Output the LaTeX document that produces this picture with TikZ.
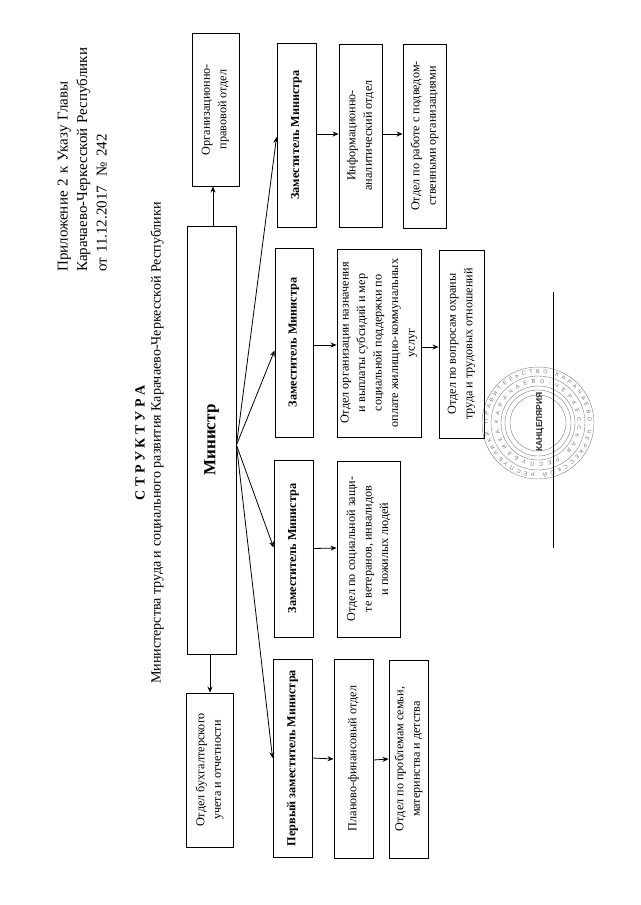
\documentclass[tikz,border=0pt]{standalone}
\usepackage{fontspec}
\setmainfont{Liberation Serif}
\newfontfamily\stampfont{Liberation Sans}
\usetikzlibrary{arrows.meta,calc,decorations.text}
\tikzset{
  box/.style={draw=black,line width=0.9pt,rotate=90,align=center,inner sep=0pt,font=\fontsize{12.2}{16.5}\selectfont},
  bbox/.style={box,font=\fontsize{12.2}{16.5}\selectfont\bfseries},
  lnk/.style={draw=black,line width=0.8pt,-{Stealth[length=6pt,width=5pt]}},
  hdr/.style={rotate=90,align=left,inner sep=0pt,font=\fontsize{15}{19.5}\selectfont},
  ring/.style={draw=black!50,line width=0.4pt},
  ringtext/.style 2 args={decorate,decoration={text along path,text align=fit to path,raise=0pt,text={|\stampfont\fontsize{#1}{6}\selectfont\color{black!55}|#2}}}
}
% \bx{name}{style}{x1}{y1}{x2}{y2}{text}
\newcommand{\bx}[7]{\node[#2,minimum width={#6pt-#4pt},minimum height={#5pt-#3pt}] (#1) at ({(#3+#5)/2},{(#4+#6)/2}) {#7};}
\begin{document}
\begin{tikzpicture}[x=1pt,y=-1pt]
\useasboundingbox[fill=white] (0,0) rectangle (640,905);
% heading
\node[hdr,anchor=south west,text width=240pt] (h) at (107,272) {Приложение 2 к Указу Главы\\Карачаево-Черкесской Республики\\от 11.12.2017\ \ № 242};
\node[rotate=90,font=\fontsize{14}{16}\selectfont\bfseries] (t1) at (140,443) {С Т Р У К Т У Р А};
\node[rotate=90,font=\fontsize{14.1}{16}\selectfont] (t2) at (157,443) {Министерства труда и социального развития Карачаево-Черкесской Республики};
% stamp
\coordinate (st) at (538,423);
\foreach \r in {56,47,37,33,28}{\draw[ring] (st) circle (\r);}
\node[rotate=90,inner sep=0pt,font=\stampfont\fontsize{8.5}{9}\selectfont\bfseries,text=black!85] (kan) at (540,422) {КАНЦЕЛЯРИЯ};
\path[ringtext={5.5}{ПРАВИТЕЛЬСТВО КАРАЧАЕВО-ЧЕРКЕССКОЙ РЕСПУБЛИКИ}] (st) ++(180:50) arc[start angle=180,end angle=530,radius=50];
\path[ringtext={5.5}{КАРАЧАЕВО-ЧЕРКЕССКАЯ РЕСПУБЛИКА}] (st) ++(180:39.5) arc[start angle=180,end angle=530,radius=39.5];
% boxes
\bx{org}{box}{192}{33}{239}{186}{Организационно-\\правовой отдел}
\bx{min}{box}{187}{226}{236}{654}{\fontsize{17}{20}\selectfont\bfseries Министр}
\bx{buh}{box}{186}{693}{233}{847}{Отдел бухгалтерского\\учета и отчетности}
\bx{za}{bbox}{277}{43}{316}{227}{Заместитель Министра}
\bx{inf}{box}{339}{44}{382}{227}{Информационно-\\аналитический отдел}
\bx{pod}{box}{403}{44}{446}{228}{Отдел по работе с подведом-\\ственными организациями}
\bx{zb}{bbox}{275}{248}{313}{437}{Заместитель Министра}
\bx{nazn}{box}{337}{249}{421}{437}{Отдел организации назначения\\и выплаты субсидий и мер\\социальной поддержки по\\оплате жилищно-коммунальных\\услуг}
\bx{ohr}{box}{439}{250}{484}{438}{Отдел по вопросам охраны\\труда и трудовых отношений}
\bx{zc}{bbox}{274}{460}{313}{637}{Заместитель Министра}
\bx{soc}{box}{337}{461}{400}{637}{Отдел по социальной защи-\\те ветеранов, инвалидов\\и пожилых людей}
\bx{per}{bbox}{273}{659}{312}{857}{Первый заместитель Министра}
\bx{pln}{box}{334}{659}{373}{858}{Планово-финансовый отдел}
\bx{sem}{box}{389}{660}{428}{858}{Отдел по проблемам семьи,\\материнства и детства}
% connectors
\coordinate (fan) at ($(min.south)+(0,5)$);
\draw[lnk] ($(min.east)+(1.5,0)$) -- ($(org.west)+(-2.5,0)$);
\draw[lnk] ($(min.west)+(-1.5,0)$) -- ($(buh.east)+(0.5,0)$);
\draw[lnk] (fan) -- ($(za.north)+(0,2)$);
\draw[lnk] (fan) -- ($(zb.north)+(0,8)$);
\draw[lnk] (fan) -- ($(zc.north)+(0,-1)$);
\draw[lnk] (fan) -- (per.north);
\draw[lnk] ($(za.south)+(0,-1)$) -- ($(inf.north)+(0,-1.5)$);
\draw[lnk] ($(inf.south)+(0,-1.5)$) -- ($(pod.north)+(0,-2)$);
\draw[lnk] ($(zb.south)+(0,2.5)$) -- ($(nazn.north)+(0,2)$);
\draw[lnk] ($(nazn.south)+(0,4)$) -- ($(ohr.north)+(0,3)$);
\draw[lnk] (zc.south) -- ($(soc.north)+(0,-1)$);
\draw[lnk] (per.south) -- ($(pln.north)+(0,0.5)$);
\draw[lnk] ($(pln.south)+(0,1.5)$) -- (sem.north);
% signature rule
\coordinate (ra) at (553,292);
\coordinate (rb) at (553,548);
\draw[line width=0.9pt] (ra) -- (rb);
\end{tikzpicture}
\end{document}
